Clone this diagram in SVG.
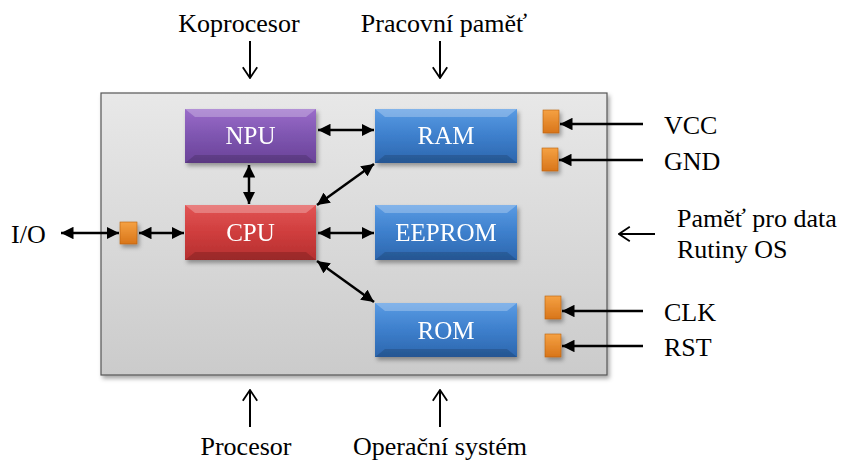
<svg xmlns="http://www.w3.org/2000/svg" width="841" height="462" viewBox="0 0 841 462">
<defs>
<linearGradient id="gBox" x1="0" y1="0" x2="0" y2="1"><stop offset="0" stop-color="#e8e8e8"/><stop offset="1" stop-color="#cbcbcb"/></linearGradient>
<linearGradient id="gPur" x1="0" y1="0" x2="0" y2="1"><stop offset="0" stop-color="#9a6cc9"/><stop offset="0.5" stop-color="#7e55b0"/><stop offset="1" stop-color="#6a4398"/></linearGradient>
<linearGradient id="gRed" x1="0" y1="0" x2="0" y2="1"><stop offset="0" stop-color="#e25555"/><stop offset="0.5" stop-color="#cf3d3d"/><stop offset="1" stop-color="#b53030"/></linearGradient>
<linearGradient id="gBlu" x1="0" y1="0" x2="0" y2="1"><stop offset="0" stop-color="#5a9be3"/><stop offset="0.5" stop-color="#3d7fcc"/><stop offset="1" stop-color="#2d66ad"/></linearGradient>
<linearGradient id="gOr" x1="0" y1="0" x2="0" y2="1"><stop offset="0" stop-color="#f5a142"/><stop offset="1" stop-color="#d8751a"/></linearGradient>
<filter id="sh" x="-10%" y="-10%" width="130%" height="140%"><feDropShadow dx="2" dy="3" stdDeviation="2" flood-color="#000" flood-opacity="0.35"/></filter>
<marker id="ah" viewBox="0 0 10 10" refX="10" refY="5" markerWidth="5" markerHeight="5" orient="auto-start-reverse"><path d="M0,0 L10,5 L0,10 z" fill="#000"/></marker>
<marker id="oa" viewBox="0 0 20 20" refX="19" refY="10" markerWidth="18" markerHeight="18" markerUnits="userSpaceOnUse" orient="auto"><path d="M7,2 L19,10 L7,18" fill="none" stroke="#000" stroke-width="2"/></marker>
</defs>
<style>
.t{font-family:"Liberation Serif","Times New Roman",serif;font-size:26px;fill:#000}
.n{font-family:"Liberation Serif","Times New Roman",serif;font-size:25px;fill:#fff}
.c{stroke:#000;stroke-width:2.5;fill:none}
.o{stroke:#000;stroke-width:2;fill:none}
.pin{fill:url(#gOr);stroke:#b86010;stroke-width:0.6}
</style>
<rect width="841" height="462" fill="#fff"/>
<g id="chip">
<rect x="101" y="93" width="506" height="282" fill="url(#gBox)" stroke="#555" stroke-width="1.2" filter="url(#sh)"/>
</g>
<g id="npu" filter="url(#sh)">
<rect x="185" y="109" width="131" height="54" fill="url(#gPur)"/>
<path d="M185,109 L316,109 L306,117 L195,117 Z" fill="#fff" fill-opacity="0.25"/>
<path d="M185,163 L316,163 L306,155 L195,155 Z" fill="#000" fill-opacity="0.15"/>
<text class="n" x="250.5" y="144" text-anchor="middle">NPU</text>
</g>
<g id="cpu" filter="url(#sh)">
<rect x="185" y="205" width="131" height="55" fill="url(#gRed)"/>
<path d="M185,205 L316,205 L306,213 L195,213 Z" fill="#fff" fill-opacity="0.25"/>
<path d="M185,260 L316,260 L306,252 L195,252 Z" fill="#000" fill-opacity="0.15"/>
<text class="n" x="250.5" y="241" text-anchor="middle">CPU</text>
</g>
<g id="ram" filter="url(#sh)">
<rect x="375" y="109" width="142" height="54" fill="url(#gBlu)"/>
<path d="M375,109 L517,109 L507,117 L385,117 Z" fill="#fff" fill-opacity="0.25"/>
<path d="M375,163 L517,163 L507,155 L385,155 Z" fill="#000" fill-opacity="0.15"/>
<text class="n" x="446" y="144" text-anchor="middle">RAM</text>
</g>
<g id="eeprom" filter="url(#sh)">
<rect x="375" y="205" width="142" height="55" fill="url(#gBlu)"/>
<path d="M375,205 L517,205 L507,213 L385,213 Z" fill="#fff" fill-opacity="0.25"/>
<path d="M375,260 L517,260 L507,252 L385,252 Z" fill="#000" fill-opacity="0.15"/>
<text class="n" x="446" y="241" text-anchor="middle">EEPROM</text>
</g>
<g id="rom" filter="url(#sh)">
<rect x="375" y="303" width="142" height="54" fill="url(#gBlu)"/>
<path d="M375,303 L517,303 L507,311 L385,311 Z" fill="#fff" fill-opacity="0.25"/>
<path d="M375,357 L517,357 L507,349 L385,349 Z" fill="#000" fill-opacity="0.15"/>
<text class="n" x="446" y="339" text-anchor="middle">ROM</text>
</g>
<g id="pins" filter="url(#sh)">
<rect class="pin" x="120" y="222" width="17" height="22"/>
<rect class="pin" x="543" y="110" width="16" height="23"/>
<rect class="pin" x="542" y="148" width="16" height="23"/>
<rect class="pin" x="545" y="296" width="16" height="23"/>
<rect class="pin" x="545" y="334" width="16" height="23"/>
</g>
<g id="connectors">
<line class="c" x1="318" y1="130" x2="374" y2="130" marker-start="url(#ah)" marker-end="url(#ah)"/>
<line class="c" x1="249" y1="165" x2="249" y2="204" marker-start="url(#ah)" marker-end="url(#ah)"/>
<line class="c" x1="317" y1="205" x2="374" y2="164" marker-start="url(#ah)" marker-end="url(#ah)"/>
<line class="c" x1="318" y1="233" x2="374" y2="233" marker-start="url(#ah)" marker-end="url(#ah)"/>
<line class="c" x1="317" y1="261" x2="374" y2="302" marker-start="url(#ah)" marker-end="url(#ah)"/>
<line class="c" x1="139" y1="233" x2="184" y2="233" marker-start="url(#ah)" marker-end="url(#ah)"/>
<line class="c" x1="61" y1="233" x2="119" y2="233" marker-start="url(#ah)" marker-end="url(#ah)"/>
<line class="c" x1="643" y1="124" x2="560" y2="124" marker-end="url(#ah)"/>
<line class="c" x1="643" y1="160" x2="559" y2="160" marker-end="url(#ah)"/>
<line class="c" x1="643" y1="311" x2="562" y2="311" marker-end="url(#ah)"/>
<line class="c" x1="643" y1="346" x2="562" y2="346" marker-end="url(#ah)"/>
<line class="o" x1="655" y1="234" x2="619" y2="234" marker-end="url(#oa)"/>
<line class="o" x1="250" y1="41" x2="250" y2="78" marker-end="url(#oa)"/>
<line class="o" x1="440" y1="41" x2="440" y2="78" marker-end="url(#oa)"/>
<line class="o" x1="250" y1="427" x2="250" y2="390" marker-end="url(#oa)"/>
<line class="o" x1="440" y1="427" x2="440" y2="390" marker-end="url(#oa)"/>
</g>
<g id="labels">
<text class="t" x="239" y="32" text-anchor="middle">Koprocesor</text>
<text class="t" x="444" y="32" text-anchor="middle">Pracovní paměť</text>
<text class="t" x="246" y="455" text-anchor="middle">Procesor</text>
<text class="t" x="440" y="455" text-anchor="middle">Operační systém</text>
<text class="t" x="11" y="243">I/O</text>
<text class="t" x="664" y="134">VCC</text>
<text class="t" x="664" y="170">GND</text>
<text class="t" x="677" y="227">Paměť pro data</text>
<text class="t" x="677" y="258">Rutiny OS</text>
<text class="t" x="664" y="321">CLK</text>
<text class="t" x="664" y="356">RST</text>
</g>
</svg>
